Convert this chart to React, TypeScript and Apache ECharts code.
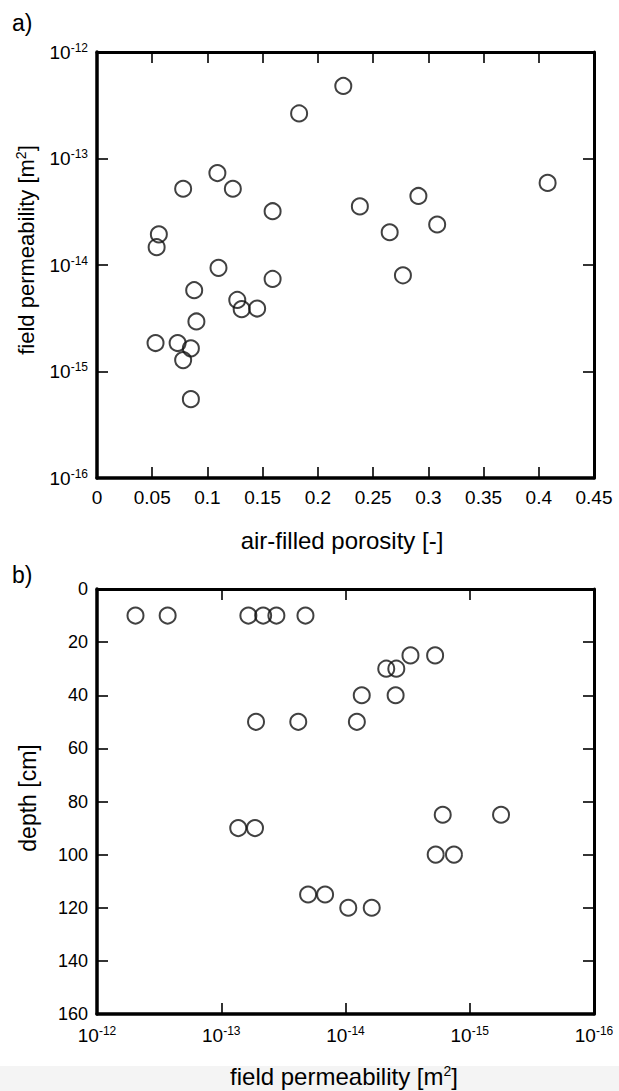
import React, { useEffect, useRef } from 'react';
import * as echarts from 'echarts';

// Panel a: air-filled porosity vs field permeability
const porosityA = [0.223, 0.183, 0.109, 0.078, 0.123, 0.159, 0.056, 0.054, 0.408, 0.291, 0.238, 0.308, 0.265, 0.277, 0.110, 0.159, 0.088, 0.127, 0.131, 0.145, 0.090, 0.053, 0.073, 0.085, 0.078, 0.085];
const permeabilityA = [4.8e-13, 2.65e-13, 7.3e-14, 5.2e-14, 5.2e-14, 3.2e-14, 1.94e-14, 1.47e-14, 5.9e-14, 4.45e-14, 3.55e-14, 2.4e-14, 2.03e-14, 8.0e-15, 9.4e-15, 7.4e-15, 5.8e-15, 4.7e-15, 3.85e-15, 3.9e-15, 2.95e-15, 1.85e-15, 1.85e-15, 1.65e-15, 1.28e-15, 5.5e-16];

// Panel b: field permeability vs depth
const permeabilityB = [4.9e-13, 2.7e-13, 6.05e-14, 4.6e-14, 3.6e-14, 2.1e-14, 3.0e-15, 1.9e-15, 4.7e-15, 3.9e-15, 7.4e-15, 3.95e-15, 5.25e-14, 2.4e-14, 8.1e-15, 1.65e-15, 5.6e-16, 7.3e-14, 5.35e-14, 1.88e-15, 1.34e-15, 2.0e-14, 1.46e-14, 9.5e-15, 6.15e-15];
const depthB = [10, 10, 10, 10, 10, 10, 25, 25, 30, 30, 40, 40, 50, 50, 50, 85, 85, 90, 90, 100, 100, 115, 115, 120, 120];

// Axis ranges / labels
const porosityRange = [0, 0.45];
const porosityStep = 0.05;
const logPermRange = [-16, -12]; // exponents of 10
const depthRange = [0, 160];
const depthStep = 20;

const titleA = 'a)';
const titleB = 'b)';
const xTitleA = 'air-filled porosity [-]';
const yTitleA = 'field permeability [m{s|2}]';
const xTitleB = 'field permeability [m{s|2}]';
const yTitleB = 'depth [cm]';

const FONT = '"Liberation Sans", Arial, sans-serif';
const TXT = '#000';

export default function App() {
  const ref = useRef<HTMLDivElement>(null);

  useEffect(() => {
    if (!ref.current) return;
    const chart = echarts.init(ref.current, undefined, { renderer: 'svg' });

    const supRich = {
      b: { fontSize: 19, fontFamily: FONT, color: TXT },
      s: { fontSize: 12, fontFamily: FONT, color: TXT, padding: [0, 0, 9, 0] },
    };
    const expFormatter = (v: number) => `{b|10}{s|${Math.round(v)}}`;

    const frame = (width: number) => ({
      show: true,
      onZero: false,
      lineStyle: { color: '#000', width },
    });
    const tick = { show: true, inside: true, length: 11, lineStyle: { color: '#000', width: 1.6 } };

    const titleRich = { s: { fontSize: 14, fontFamily: FONT, color: TXT, padding: [0, 0, 11, 0] } };
    const markerStyle = { color: 'rgba(0,0,0,0)', borderColor: '#111', borderWidth: 2 };

    const option: any = {
      animation: false,
      backgroundColor: '#fff',
      grid: [
        { left: 97, top: 52, width: 497, height: 426 },
        { left: 97, top: 589, width: 497, height: 425 },
      ],
      xAxis: [
        {
          gridIndex: 0, type: 'value', position: 'bottom',
          min: porosityRange[0], max: porosityRange[1], interval: porosityStep,
          axisLine: frame(3.5), axisTick: tick, splitLine: { show: false },
          axisLabel: {
            margin: 10, fontSize: 19, fontFamily: FONT, color: TXT,
            formatter: (v: number) => String(Math.round(v * 100) / 100),
          },
        },
        {
          gridIndex: 0, type: 'value', position: 'top',
          min: porosityRange[0], max: porosityRange[1], interval: porosityStep,
          axisLine: frame(3), axisTick: tick, splitLine: { show: false },
          axisLabel: { show: false },
        },
        {
          gridIndex: 1, type: 'value', position: 'bottom', inverse: true,
          min: logPermRange[0], max: logPermRange[1], interval: 1,
          axisLine: frame(3.5), axisTick: tick, splitLine: { show: false },
          axisLabel: { margin: 11, formatter: expFormatter, rich: supRich },
        },
        {
          gridIndex: 1, type: 'value', position: 'top', inverse: true,
          min: logPermRange[0], max: logPermRange[1], interval: 1,
          axisLine: frame(3), axisTick: tick, splitLine: { show: false },
          axisLabel: { show: false },
        },
      ],
      yAxis: [
        {
          gridIndex: 0, type: 'value', position: 'left',
          min: logPermRange[0], max: logPermRange[1], interval: 1,
          axisLine: frame(3.5), axisTick: tick, splitLine: { show: false },
          axisLabel: { margin: 9, formatter: expFormatter, rich: supRich },
        },
        {
          gridIndex: 0, type: 'value', position: 'right',
          min: logPermRange[0], max: logPermRange[1], interval: 1,
          axisLine: frame(3), axisTick: tick, splitLine: { show: false },
          axisLabel: { show: false },
        },
        {
          gridIndex: 1, type: 'value', position: 'left', inverse: true,
          min: depthRange[0], max: depthRange[1], interval: depthStep,
          axisLine: frame(3.5), axisTick: tick, splitLine: { show: false },
          axisLabel: { margin: 9, fontSize: 18, fontFamily: FONT, color: TXT },
        },
        {
          gridIndex: 1, type: 'value', position: 'right', inverse: true,
          min: depthRange[0], max: depthRange[1], interval: depthStep,
          axisLine: frame(3), axisTick: tick, splitLine: { show: false },
          axisLabel: { show: false },
        },
      ],
      series: [
        {
          type: 'scatter', xAxisIndex: 0, yAxisIndex: 0,
          symbol: 'circle', symbolSize: 16,
          itemStyle: markerStyle,
          data: porosityA.map((p, i) => [p, Math.log10(permeabilityA[i])]),
        },
        {
          type: 'scatter', xAxisIndex: 2, yAxisIndex: 2,
          symbol: 'circle', symbolSize: 16,
          itemStyle: markerStyle,
          data: permeabilityB.map((k, i) => [Math.log10(k), depthB[i]]),
        },
      ],
      graphic: [
        { type: 'rect', z: -10, silent: true, shape: { x: 0, y: 1066, width: 619, height: 25 }, style: { fill: '#f4f4f4' } },
        { type: 'text', x: 12, y: 23, style: { text: titleA, fontSize: 23, fontFamily: FONT, fill: TXT, verticalAlign: 'middle' } },
        { type: 'text', x: 12, y: 575, style: { text: titleB, fontSize: 23, fontFamily: FONT, fill: TXT, verticalAlign: 'middle' } },
        { type: 'text', x: 342, y: 540, style: { text: xTitleA, fontSize: 24, fontFamily: FONT, fill: TXT, align: 'center', verticalAlign: 'middle' } },
        { type: 'text', x: 344, y: 1076, style: { text: xTitleB, rich: titleRich, fontSize: 24, fontFamily: FONT, fill: TXT, align: 'center', verticalAlign: 'middle' } },
        { type: 'text', x: 26, y: 250, rotation: Math.PI / 2, style: { text: yTitleA, rich: titleRich, fontSize: 22, fontFamily: FONT, fill: TXT, align: 'center', verticalAlign: 'middle' } },
        { type: 'text', x: 28, y: 798, rotation: Math.PI / 2, style: { text: yTitleB, fontSize: 23, fontFamily: FONT, fill: TXT, align: 'center', verticalAlign: 'middle' } },
      ],
    };

    chart.setOption(option);
    return () => chart.dispose();
  }, []);

  return (
    <div
      ref={ref}
      style={{ position: 'fixed', left: 0, top: 0, width: 619, height: 1091 }}
    />
  );
}
